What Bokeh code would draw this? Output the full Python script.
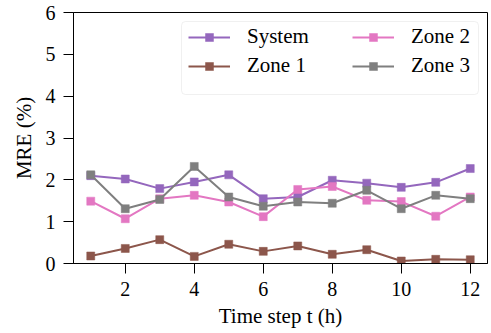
from bokeh.plotting import figure
from bokeh.models import Range1d, FixedTicker, Legend, LegendItem, BoxAnnotation
from bokeh.embed import file_html
from bokeh.resources import INLINE

hours = [1, 2, 3, 4, 5, 6, 7, 8, 9, 10, 11, 12]
system = [2.10, 2.02, 1.79, 1.95, 2.12, 1.55, 1.59, 1.99, 1.92, 1.82, 1.94, 2.27]
zone1 = [0.18, 0.36, 0.57, 0.17, 0.46, 0.29, 0.42, 0.22, 0.33, 0.06, 0.10, 0.09]
zone2 = [1.49, 1.07, 1.55, 1.63, 1.47, 1.12, 1.77, 1.84, 1.51, 1.48, 1.13, 1.59]
zone3 = [2.12, 1.31, 1.53, 2.32, 1.59, 1.37, 1.47, 1.44, 1.75, 1.31, 1.63, 1.55]
series_names = ["System", "Zone 1", "Zone 2", "Zone 3"]
series_colors = ["#9467bd", "#8c564b", "#e377c2", "#7f7f7f"]
x_ticks = [2, 4, 6, 8, 10, 12]
y_ticks = [0, 1, 2, 3, 4, 5, 6]
x_label = "Time step t (h)"
y_label = "MRE (%)"

FONT = "Liberation Serif"
FS = "20px"
FS_LAB = "21px"

p = figure(width=489, height=330, output_backend="svg", toolbar_location=None,
           x_range=Range1d(0.5, 12.5), y_range=Range1d(0, 6),
           min_border_left=73, min_border_right=2, min_border_top=12,
           min_border_bottom=67)
p.xgrid.visible = False
p.ygrid.visible = False
p.outline_line_color = "black"
p.outline_line_alpha = 1
p.outline_line_width = 1
p.background_fill_color = "white"

p.xaxis.ticker = FixedTicker(ticks=x_ticks)
p.yaxis.ticker = FixedTicker(ticks=y_ticks)
for ax in (p.xaxis[0], p.yaxis[0]):
    ax.major_tick_out = 10
    ax.major_tick_in = 0
    ax.minor_tick_out = 0
    ax.minor_tick_in = 0
    ax.axis_line_color = "black"
    ax.major_tick_line_color = "black"
    ax.major_label_text_font = FONT
    ax.major_label_text_font_size = FS
    ax.major_label_text_color = "black"
    ax.axis_label_text_font = FONT
    ax.axis_label_text_font_size = FS_LAB
    ax.axis_label_text_font_style = "normal"
    ax.axis_label_text_color = "black"
p.xaxis.axis_label = x_label
p.yaxis.axis_label = y_label
p.xaxis.major_label_standoff = 8
p.yaxis.major_label_standoff = 8
p.xaxis.axis_label_standoff = 5
p.yaxis.axis_label_standoff = 7

data = [system, zone1, zone2, zone3]
rends = []
for vals, col in zip(data, series_colors):
    ln = p.line(hours, vals, line_color=col, line_width=2)
    sc = p.scatter(hours, vals, marker="square", size=8, fill_color=col,
                   line_color=col, line_width=0.5)
    rends.append([ln, sc])

box = BoxAnnotation(left=108, right=405, top=242, bottom=169,
                    left_units="screen", right_units="screen",
                    top_units="screen", bottom_units="screen",
                    fill_color="white", fill_alpha=0.8,
                    line_color="#cccccc", line_width=1, border_radius=4)
p.add_layout(box)

def make_legend(idx, loc):
    items = [LegendItem(label=series_names[i], renderers=rends[i]) for i in idx]
    leg = Legend(items=items, location=loc, orientation="vertical",
                 padding=0, spacing=4, glyph_width=42, glyph_height=20,
                 label_height=20, label_standoff=17, margin=0,
                 border_line_color=None, background_fill_alpha=0,
                 label_text_font=FONT, label_text_font_size=FS_LAB,
                 label_text_color="black")
    return leg

p.add_layout(make_legend([0, 1], (115, 185)))
p.add_layout(make_legend([2, 3], (279, 185)))

open("out.html", "w").write(file_html(p, INLINE))
